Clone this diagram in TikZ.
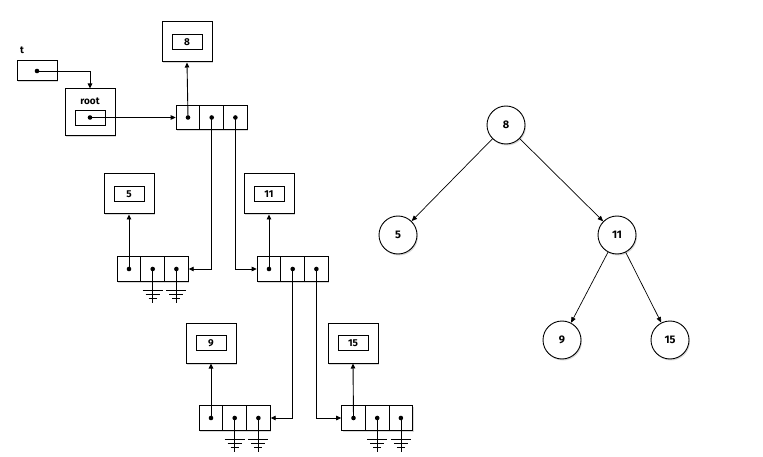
\documentclass[tikz,border=0pt]{standalone}
\usepackage{fontspec}
\setsansfont{Fira Sans}
\usetikzlibrary{arrows.meta, positioning, shadows}
% three pointer cells in a row, #2/#3 = centre of the first cell
\newcommand{\triple}[3]{%
  \foreach \i in {1,2,3} {
    \node[cell] (#1\i) at ({#2+23.7*(\i-1)},#3) {};
    \fill (#1\i) circle (2.3);
  }
}
% null pointer (ground symbol) below a cell
\newcommand{\nullptr}[1]{%
  \draw (#1.center) -- ++(0,34);
  \draw (#1.center) ++(-10,21) -- ++(20,0);
  \draw (#1.center) ++(-7,25) -- ++(14,0);
  \draw (#1.center) ++(-4,29) -- ++(8,0);
}

\begin{document}
\begin{tikzpicture}[x=1pt, y=-1pt, line width=0.8pt,
    font=\sffamily\bfseries\fontsize{10}{12}\selectfont,
    boxshadow/.style={drop shadow={opacity=0.3, shadow xshift=1pt, shadow yshift=-1.5pt}},
    outer/.style={draw, line width=1pt, fill=white, boxshadow, minimum width=50, minimum height=40, inner sep=0},
    inner/.style={draw, line width=0.7pt, minimum width=30, minimum height=15, inner sep=0},
    cell/.style={draw, line width=0.9pt, fill=white, boxshadow, minimum width=23.7, minimum height=24.5, inner sep=0},
    ptr/.style={line width=0.9pt, -{Triangle[length=5pt, width=4.5pt]}},
    tnode/.style={circle, draw, line width=0.9pt, fill=white, boxshadow, minimum size=38, inner sep=0, font=\sffamily\bfseries\fontsize{11}{13}\selectfont},
    tedge/.style={line width=0.7pt, -{Triangle[length=5.5pt, width=4.5pt]}}]
    \useasboundingbox (0,0) rectangle (763,457);

    % variable t and root
    \node (tlabel) at (22,50) {t};
    \node[outer, minimum width=40, minimum height=20] (tbox) at (37,71) {};
    \fill (tbox) circle (2.3);
    \node[outer, minimum height=47] (rootbox) at (90,112.5) {};
    \node (rootlabel) at (90,101) {root};
    \node[inner] (rootin) at (90,117.5) {};
    \fill (rootin) circle (2.3);

    % value boxes
    \node[outer] (box8) at (187,42) {};
    \node[inner] (in8) at (box8) {8};
    \node[outer] (box5) at (129,194) {};
    \node[inner] (in5) at (box5) {5};
    \node[outer] (box11) at (269,194) {};
    \node[inner] (in11) at (box11) {11};
    \node[outer] (box9) at (211,343) {};
    \node[inner] (in9) at (box9) {9};
    \node[outer] (box15) at (353,343) {};
    \node[inner] (in15) at (box15) {15};

    % tree cells
    \triple{r}{188}{117.5}
    \triple{f}{129}{269}
    \triple{e}{269}{269}
    \triple{n}{211}{418}
    \triple{s}{353.5}{418}

    % pointers
    \draw[ptr] (tbox.center) -| (rootbox.north);
    \draw[ptr] (rootin.center) -- (r1.west);
    \draw[ptr] (r1.center) -- (box8.south);
    \draw[ptr] (r2.center) |- (f3.east);
    \draw[ptr] (r3.center) |- (e1.west);
    \draw[ptr] (f1.center) -- (box5.south);
    \draw[ptr] (e1.center) -- (box11.south);
    \draw[ptr] (e2.center) |- (n3.east);
    \draw[ptr] (e3.center) |- (s1.west);
    \draw[ptr] (n1.center) -- (box9.south);
    \draw[ptr] (s1.center) -- (box15.south);

    % empty subtrees
    \nullptr{f2} \nullptr{f3}
    \nullptr{n2} \nullptr{n3}
    \nullptr{s2} \nullptr{s3}

    % the tree drawn as circles
    \node[tnode] (c8) at (506,125) {8};
    \node[tnode] (c5) at (398,235) {5};
    \node[tnode] (c11) at (617,235) {11};
    \node[tnode] (c9) at (562,340) {9};
    \node[tnode] (c15) at (670,340) {15};
    \draw[tedge] (c8) -- (c5);
    \draw[tedge] (c8) -- (c11);
    \draw[tedge] (c11) -- (c9);
    \draw[tedge] (c11) -- (c15);
\end{tikzpicture}
\end{document}
